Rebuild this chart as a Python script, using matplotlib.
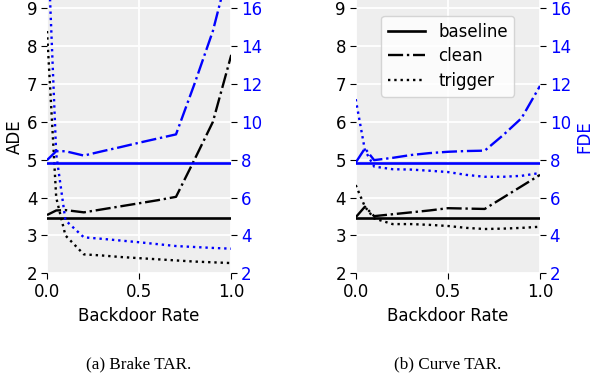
import matplotlib
matplotlib.use("Agg")
import matplotlib.pyplot as plt

# backdoor rates used for every curve
rates = [0.0, 0.05, 0.1, 0.2, 0.3, 0.4, 0.5, 0.6, 0.7, 0.8, 0.9, 1.0]

# (a) Brake TAR
brake_baseline_ade = 3.47
brake_baseline_fde = 7.84
brake_clean_ade = [3.54, 3.66, 3.67, 3.61, 3.69, 3.77, 3.85, 3.93, 4.02, 5.0, 6.0, 7.77]
brake_clean_fde = [7.98, 8.45, 8.45, 8.22, 8.45, 8.67, 8.9, 9.12, 9.34, 12.0, 14.8, 18.6]
brake_trigger_ade = [8.4, 4.0, 3.0, 2.5, 2.47, 2.43, 2.4, 2.37, 2.34, 2.31, 2.29, 2.27]
brake_trigger_fde = [20.5, 8.3, 4.8, 3.9, 3.82, 3.73, 3.64, 3.54, 3.44, 3.39, 3.34, 3.3]

# (b) Curve TAR
curve_baseline_ade = 3.47
curve_baseline_fde = 7.84
curve_clean_ade = [3.48, 3.76, 3.51, 3.56, 3.61, 3.66, 3.72, 3.71, 3.70, 4.0, 4.3, 4.6]
curve_clean_fde = [7.85, 8.6, 7.98, 8.1, 8.25, 8.35, 8.42, 8.46, 8.48, 9.3, 10.2, 11.9]
curve_trigger_ade = [4.33, 3.76, 3.45, 3.3, 3.3, 3.28, 3.25, 3.2, 3.17, 3.18, 3.2, 3.23]
curve_trigger_fde = [11.2, 8.5, 7.64, 7.5, 7.48, 7.42, 7.35, 7.2, 7.1, 7.1, 7.15, 7.3]

captions = ["(a) Brake TAR.", "(b) Curve TAR."]

plt.rcParams["font.family"] = "DejaVu Sans"
plt.rcParams["font.size"] = 12

W, H = 594, 374
fig = plt.figure(figsize=(W / 100, H / 100), dpi=100)

panels = [
    (47, brake_baseline_ade, brake_baseline_fde, brake_clean_ade, brake_clean_fde,
     brake_trigger_ade, brake_trigger_fde),
    (355.7, curve_baseline_ade, curve_baseline_fde, curve_clean_ade, curve_clean_fde,
     curve_trigger_ade, curve_trigger_fde),
]

bg = "#EEEEEE"
ymax = 9.22
lw = 1.7
for i, (x0, b_ade, b_fde, c_ade, c_fde, t_ade, t_fde) in enumerate(panels):
    ax = fig.add_axes([x0 / W, (H - 273.3) / H, 184.3 / W, 273.3 / H])
    ax.set_facecolor(bg)
    for s in ax.spines.values():
        s.set_visible(False)
    ax.grid(True, color="white", linewidth=1.3)
    ax.set_axisbelow(True)

    ax.plot([0, 1], [b_ade, b_ade], "k-", lw=lw + 0.2, label="baseline")
    ax.plot(rates, c_ade, "k-.", lw=lw, label="clean")
    ax.plot(rates, t_ade, "k:", lw=lw, label="trigger")
    ax.set_xlim(0, 1)
    ax.set_ylim(2, ymax)
    ax.set_yticks(range(2, 10))
    ax.set_xticks([0, 0.5, 1.0])
    ax.tick_params(length=4, direction="out", pad=3)
    ax.set_xlabel("Backdoor Rate", labelpad=4)

    ax2 = ax.twinx()
    for s in ax2.spines.values():
        s.set_visible(False)
    ax2.plot([0, 1], [b_fde, b_fde], "b-", lw=lw + 0.2)
    ax2.plot(rates, c_fde, "b-.", lw=lw)
    ax2.plot(rates, t_fde, "b:", lw=lw)
    ax2.set_ylim(2, 2 * ymax - 2)
    ax2.set_yticks(range(2, 17, 2))
    ax2.tick_params(length=4, direction="out", labelcolor="blue", pad=3)

    if i == 0:
        ax.set_ylabel("ADE", labelpad=2)
    else:
        ax2.set_ylabel("FDE", color="blue", labelpad=3)
        ax.legend(loc="upper center", bbox_to_anchor=(0.5, 0.96),
                  handlelength=2.2, facecolor="white", framealpha=0.8,
                  edgecolor="#CCCCCC", borderaxespad=0.3, labelspacing=0.4)

    fig.text((x0 + 92) / W, 1 - 364 / H, captions[i], ha="center", va="center",
             family="Liberation Serif", fontsize=12.3)

fig.savefig("out.png", dpi=100)
